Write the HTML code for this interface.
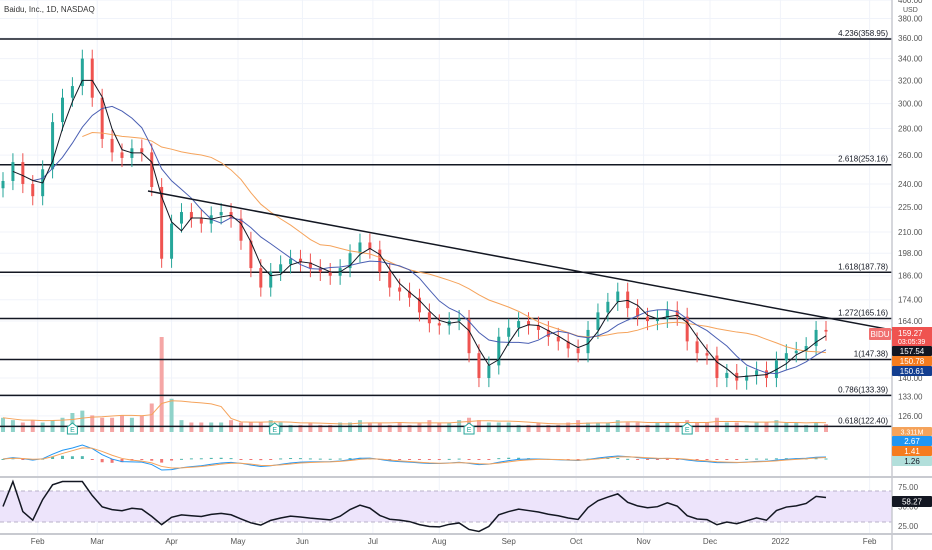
<!DOCTYPE html>
<html><head><meta charset="utf-8"><style>
html,body{margin:0;padding:0;background:#fff;overflow:hidden}
svg{display:block;font-family:"Liberation Sans",sans-serif}
</style></head><body>
<svg id="c" width="932" height="550" viewBox="0 0 932 550"></svg>
<script>
const closes=[242,255,240,232,250,285,305,315,340,305,272,262,258,265,262,238,195,215,222,218,215,220,222,218,205,190,180,188,192,195,193,190,188,186,190,198,204,200,188,180,178,175,168,163,162,164,165,150,140,145,157,161,164,162,160,157,155,152,150,160,168,173,178,170,166,164,165,169,166,155,150,149,140,142,139,141,143,140,147,150,151,153,160,159.27];
const volumes=[6,5,4,5,4,5,6,8,9,7,6,6,7,6,7,12,40,14,5,4,4,4,4,5,4,4,4,5,4,3,3,4,3,3,4,4,5,4,4,3,4,3,4,5,4,4,5,6,5,4,4,4,3,3,4,3,3,4,5,4,4,4,5,4,4,3,4,4,4,5,4,4,6,4,4,3,4,4,5,4,4,3,4,3.3];
const fibLevels=[4.236,2.618,1.618,1.272,1,0.786,0.618];
const fibPrices=[358.95,253.16,187.78,165.16,147.38,133.39,122.40];
const priceTicks=[400,380,360,340,320,300,280,260,240,225,210,198,186,174,164,140,133,126];
const monthLabels=["Feb","Mar","Apr","May","Jun","Jul","Aug","Sep","Oct","Nov","Dec","2022","Feb"];
const monthIdx=[3.5,9.5,17,23.7,30.2,37.3,44,51,57.8,64.6,71.3,78.4,87.4];
const earningsIdx=[7,27.4,47,69];
const rsiTicks=[75,50,25];

const svg=document.getElementById('c');const NS='http://www.w3.org/2000/svg';
function mk(t,a,p){const e=document.createElementNS(NS,t);for(const k in a)e.setAttribute(k,a[k]);(p||svg).appendChild(e);return e;}
const step=823/(closes.length-1);
const X=i=>3+i*step;
const Y=p=>38+(Math.log(360)-Math.log(p))*360;
const g=mk('g',{});
priceTicks.forEach(t=>mk('line',{x1:0,x2:892,y1:Y(t),y2:Y(t),stroke:'#f0f3fa'},g));
monthIdx.forEach(m=>mk('line',{x1:X(m),x2:X(m),y1:0,y2:535,stroke:'#f0f3fa'},g));
const band=mk('rect',{x:0,y:491,width:892,height:31,fill:'#ede4fb'});

[491,522].forEach(y=>mk('line',{x1:0,x2:892,y1:y,y2:y,stroke:'#b9b2c8','stroke-dasharray':'4 3'}));
const vmax=Math.max(...volumes);
volumes.forEach((v,i)=>{const up=i==0||closes[i]>=closes[i-1];const h=v/vmax*95;
 const r=mk('rect',{x:X(i)-2,y:432-h,width:4,height:h,fill:up?'#8fd2c9':'#f5a6a5'});
 });
function sma(a,n){return a.map((_,i)=>{const s=a.slice(Math.max(0,i-n+1),i+1);return s.reduce((x,y)=>x+y,0)/s.length;});}
const vma=sma(volumes,7);
const vl=mk('polyline',{points:vma.map((v,i)=>X(i)+','+(432-v/vmax*95)).join(' '),fill:'none',stroke:'#f5a35b','stroke-width':1});

fibPrices.forEach((p,k)=>{const y=Y(p);
 const l=mk('line',{x1:0,x2:892,y1:y,y2:y,stroke:'#131722','stroke-width':1.5});
 
 const t=mk('text',{x:888,y:y-3,'text-anchor':'end','font-size':8,fill:'#131722'});
 t.textContent=fibLevels[k]+'('+p.toFixed(2)+')';
 });
closes.forEach((c,i)=>{const o=i==0?c*0.98:closes[i-1];const up=c>=o;const col=up?'#26a69a':'#ef5350';
 const hi=Math.max(o,c)*1.025,lo=Math.min(o,c)*0.975;
 const w=mk('line',{x1:X(i),x2:X(i),y1:Y(hi),y2:Y(lo),stroke:col});
 
 const b=mk('rect',{x:X(i)-1.5,y:Y(Math.max(o,c)),width:3,height:Math.max(1,Math.abs(Y(o)-Y(c))),fill:col});
 });
function line(vals,start,col,name){const pts=[];vals.forEach((v,i)=>{if(i>=start)pts.push(X(i)+','+Y(v));});
 const l=mk('polyline',{points:pts.join(' '),fill:'none',stroke:col,'stroke-width':1});
 }
line(sma(closes,17),8,'#f5a35b','ma-50');
line(sma(closes,7),3,'#4a5fb3','ma-20');
line(sma(closes,3),1,'#131722','ma-10');
const tl=mk('line',{x1:148,y1:191,x2:892,y2:330,stroke:'#131722','stroke-width':1.5});

earningsIdx.forEach(i=>{const x=X(i);
 const p=mk('path',{d:`M${x-5} 434 v-7 l5 -4 l5 4 v7 z`,fill:'#fff',stroke:'#26a69a'});
 
 const t=mk('text',{x:x,y:432,'text-anchor':'middle','font-size':7,fill:'#26a69a'});t.textContent='E';});
function ema(a,n){const k=2/(n+1);let e=a[0];return a.map(v=>e=v*k+e*(1-k));}
const f=ema(closes,4),s=ema(closes,9);const macd=f.map((v,i)=>v-s[i]);const sig=ema(macd,3);
const mmax=Math.max(...macd.map(Math.abs));const MY=v=>459-v/mmax*14;
macd.forEach((v,i)=>{const h=v-sig[i];const r=mk('rect',{x:X(i)-1.5,y:Math.min(459,MY(h)),width:3,height:Math.max(1,Math.abs(MY(h)-459)),fill:h>=0?'#26a69a':'#ef5350',opacity:0.8});
 });
[[macd,'#2196f3','macd-line'],[sig,'#f5a35b','signal-line']].forEach(([a,c,n])=>{
 const l=mk('polyline',{points:a.map((v,i)=>X(i)+','+MY(v)).join(' '),fill:'none',stroke:c});
 });
// RSI (Wilder smoothing)
const N=9;let ag=0,al=0;
const rsi=closes.map((c,i)=>{if(i==0)return 50;const d=c-closes[i-1];
 ag=(ag*(N-1)+Math.max(d,0))/N;al=(al*(N-1)+Math.max(-d,0))/N;return ag+al==0?50:100*ag/(ag+al);});
const RY=v=>526-(v-25)*39/50;
const rl=mk('polyline',{points:rsi.map((v,i)=>X(i)+','+RY(Math.max(18,Math.min(82,v)))).join(' '),fill:'none',stroke:'#131722','stroke-width':1.5});

mk('line',{x1:0,x2:932,y1:477,y2:477,stroke:'#c8cad0','stroke-width':2});
mk('line',{x1:0,x2:932,y1:534,y2:534,stroke:'#c8cad0','stroke-width':2});
mk('line',{x1:892,x2:892,y1:0,y2:550,stroke:'#c8cad0','stroke-width':1.5});
priceTicks.forEach(t=>{const e=mk('text',{x:898,y:Y(t)+3,'font-size':8,fill:'#555'});e.textContent=t.toFixed(2);
 });
rsiTicks.forEach(t=>{const e=mk('text',{x:898,y:RY(t)+3,'font-size':8,fill:'#555'});e.textContent=t.toFixed(2);
 });
monthLabels.forEach((m,k)=>{const e=mk('text',{x:X(monthIdx[k]),y:544,'text-anchor':'middle','font-size':8,fill:'#555'});e.textContent=m;
 });
const usd=mk('text',{x:903,y:12,'font-size':7,fill:'#555'});usd.textContent='USD';
const ttl=mk('text',{x:4,y:12,'font-size':8,fill:'#333'});ttl.textContent='Baidu, Inc., 1D, NASDAQ';

function tag(x,y,w,h,bg,fg,txt,name,fs){const r=mk('rect',{x:x,y:y,width:w,height:h,fill:bg,rx:1});
 
 const t=mk('text',{x:x+w/2,y:y+h/2+3,'text-anchor':'middle','font-size':fs||8,fill:fg});t.textContent=txt;return t;}
tag(869,328,22,12,'#f07070','#fff','BIDU','symbol-tag');
mk('rect',{x:892,y:327,width:40,height:19,fill:'#ef5350'});
const pt=mk('text',{x:898,y:336,'font-size':8,fill:'#fff'});pt.textContent='159.27';
const pt2=mk('text',{x:898,y:344,'font-size':7,fill:'#fff'});pt2.textContent='03:05:39';
tag(892,346,40,10,'#131722','#fff','157.54','ma10-tag');
tag(892,356,40,10,'#f57c1f','#fff','150.78','ma50-tag');
tag(892,366,40,10,'#123d8f','#fff','150.61','ma20-tag');
tag(892,427,40,9,'#f5a35b','#fff','3.311M','volume-tag',7);
tag(892,436,40,10,'#2196f3','#fff','2.67','macd-tag');
tag(892,446,40,10,'#f57c1f','#fff','1.41','signal-tag');
tag(892,456,40,10,'#b2dfdb','#131722','1.26','hist-tag');
tag(892,496,40,11,'#131722','#fff','58.27','rsi-tag');
</script>
</body></html>
